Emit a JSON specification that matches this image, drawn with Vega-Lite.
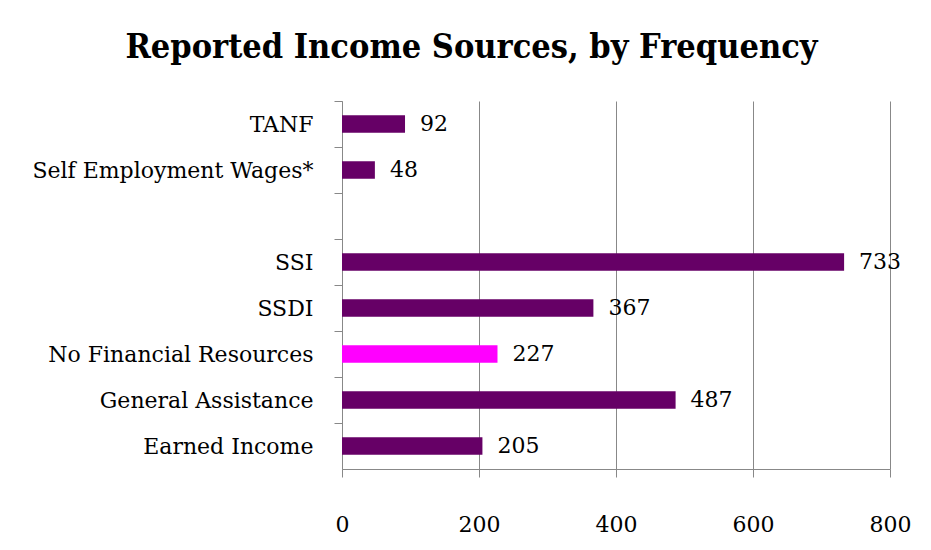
{
  "$schema": "https://vega.github.io/schema/vega-lite/v6.json",
  "width": 548,
  "height": 368,
  "autosize": "none",
  "padding": {"left": 342, "top": 101, "right": 41, "bottom": 81},
  "background": "white",
  "title": {
    "text": "Reported Income Sources, by Frequency",
    "font": "DejaVu Serif Condensed",
    "fontSize": 34,
    "fontWeight": "bold",
    "color": "black",
    "anchor": "middle",
    "frame": "bounds",
    "offset": 36
  },
  "data": {
    "values": [
      {"source": "TANF", "count": 92, "group": "a"},
      {"source": "Self Employment Wages*", "count": 48, "group": "a"},
      {"source": " ", "count": null, "group": "a"},
      {"source": "SSI", "count": 733, "group": "a"},
      {"source": "SSDI", "count": 367, "group": "a"},
      {"source": "No Financial Resources", "count": 227, "group": "b"},
      {"source": "General Assistance", "count": 487, "group": "a"},
      {"source": "Earned Income", "count": 205, "group": "a"}
    ]
  },
  "encoding": {
    "y": {
      "field": "source",
      "type": "nominal",
      "sort": null,
      "scale": {
        "domain": ["TANF", "Self Employment Wages*", " ", "SSI", "SSDI", "No Financial Resources", "General Assistance", "Earned Income"],
        "paddingInner": 0.62,
        "paddingOuter": 0.31
      },
      "axis": {
        "title": null,
        "tickBand": "center",
        "tickOffset": -23,
        "labelOffset": 23,
        "tickSize": 8,
        "tickColor": "#888888",
        "domainColor": "#888888",
        "labelPadding": 21,
        "labelLimit": 0,
        "labelFont": "DejaVu Serif",
        "labelFontSize": 22,
        "labelColor": "black",
        "grid": false
      }
    }
  },
  "layer": [
    {
      "mark": {"type": "bar"},
      "transform": [{"filter": "datum.count != null"}],
      "encoding": {
        "x": {
          "field": "count",
          "type": "quantitative",
          "scale": {"domain": [0, 800]},
          "axis": {
            "title": null,
            "values": [0, 200, 400, 600, 800],
            "grid": true,
            "gridColor": "#888888",
            "gridWidth": 1,
            "tickColor": "#888888",
            "tickSize": 8,
            "domainColor": "#888888",
            "labelFlush": false,
            "labelPadding": 37,
            "labelFont": "DejaVu Serif",
            "labelFontSize": 22,
            "labelColor": "black"
          }
        },
        "color": {
          "field": "group",
          "type": "nominal",
          "scale": {"domain": ["a", "b"], "range": ["#660066", "#FF00FF"]},
          "legend": null
        }
      }
    },
    {
      "mark": {"type": "text", "align": "left", "baseline": "middle", "dx": 15, "font": "DejaVu Serif", "fontSize": 22, "color": "black"},
      "transform": [{"filter": "datum.count != null"}],
      "encoding": {
        "x": {"field": "count", "type": "quantitative"},
        "text": {"field": "count", "type": "quantitative"}
      }
    }
  ],
  "config": {"view": {"stroke": null}}
}
